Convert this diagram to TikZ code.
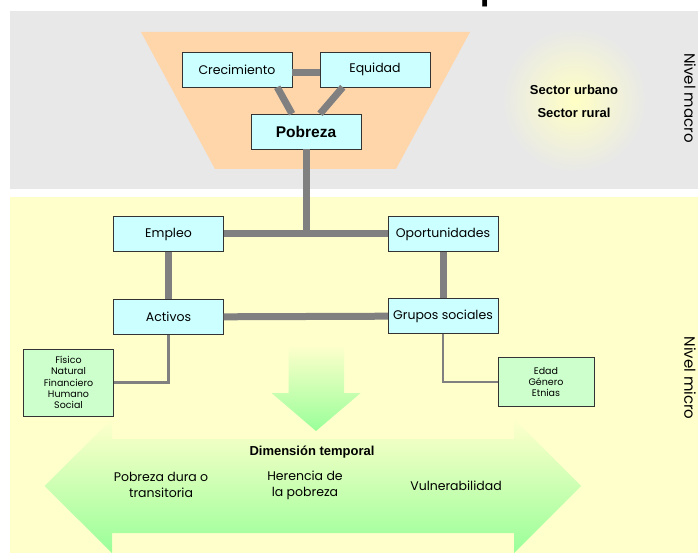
\documentclass[tikz,border=0pt]{standalone}
\usepackage{fontspec}
\usepackage{tikz}
\usetikzlibrary{calc}
\setmainfont{Poppins}
\newfontfamily\narrowfont{Liberation Sans}
\definecolor{macrogray}{HTML}{E8E8E8}
\definecolor{microyellow}{HTML}{FFFFCC}
\definecolor{trapezcolor}{HTML}{FFD5AA}
\definecolor{cyanbox}{HTML}{CCFFFF}
\definecolor{greenbox}{HTML}{CCFFCC}
\definecolor{arrowgreen}{HTML}{99FF99}
\definecolor{linkgray}{HTML}{808080}
\definecolor{glowyellow}{HTML}{FFFFC4}

\begin{document}
\begin{tikzpicture}[x=1pt, y=-1pt,
        factorbox/.style={draw=black!80, fill=cyanbox, minimum width=110pt, minimum height=35pt, inner sep=0pt, font=\fontsize{12.5}{14}\selectfont},
        detailbox/.style={draw=black!80, fill=greenbox, inner sep=0pt, align=center, font=\fontsize{9.5}{11.4}\selectfont},
        thicklink/.style={draw=linkgray, line width=7pt},
        thinlink/.style={draw=linkgray, line width=2.5pt},
        sidelabel/.style={rotate=-90, font=\fontsize{15}{16}\selectfont},
        boldlabel/.style={font=\narrowfont\bfseries\fontsize{13}{14}\selectfont},
        timelabel/.style={align=center, font=\fontsize{12.5}{16}\selectfont}]
        \useasboundingbox (0,0) rectangle (698,553);
        \node[anchor=base, font=\rmfamily\bfseries\fontsize{28}{30}\selectfont] (title) at (490,0) {p};
        % panels
        \fill[macrogray] (10,11) rectangle (698,189);
        \fill[microyellow] (10,197) rectangle (698,553);
        \shade[inner color=glowyellow, outer color=macrogray] (574,100) circle (72);
        \fill[trapezcolor] (141,32) -- (470,32) -- (396,169) -- (215,169) -- cycle;
        % arrows
        \shade[top color=microyellow, bottom color=arrowgreen] (288.5,345) -- (344,345) -- (344,393) -- (360.6,393) -- (316,431) -- (271.6,393) -- (288.5,393) -- cycle;
        \shade[top color=microyellow, middle color=arrowgreen!45!microyellow, bottom color=arrowgreen] (44.5,486) -- (112,419) -- (112,439) -- (514,439) -- (514,419) -- (581,486) -- (514,553) -- (514,533) -- (112,533) -- (112,553) -- cycle;
        % boxes
        \node[factorbox] (crec) at (237,69.5) {Crecimiento};
        \node[factorbox] (equi) at (375,69.5) {Equidad};
        \node[factorbox, font=\narrowfont\bfseries\fontsize{15.5}{17}\selectfont] (pobr) at (306,131.5) {Pobreza};
        \node[factorbox] (empl) at (168.5,234) {Empleo};
        \node[factorbox] (opor) at (443,234) {Oportunidades};
        \node[factorbox] (acti) at (168.5,317) {Activos};
        \node[factorbox] (grup) at (443,316) {Grupos sociales};
        \node[detailbox, minimum width=90pt, minimum height=67pt] (fisi) at (68.5,382.5) {Físico\\Natural\\Financiero\\Humano\\Social};
        \node[detailbox, minimum width=96pt, minimum height=49pt] (edad) at (546,382) {Edad\\Género\\Etnias};
        % links
        \draw[thicklink] ([yshift=-3.5pt]crec.east) -- ([yshift=-3.5pt]equi.west);
        \draw[thicklink] ([xshift=-15pt]crec.south east) -- ([xshift=-14pt]pobr.north);
        \draw[thicklink] ([xshift=23pt]equi.south west) -- ([xshift=14pt]pobr.north);
        \draw[thicklink] (empl) -- (opor);
        \draw[thicklink] (pobr) -- (pobr |- empl);
        \draw[thicklink] (empl) -- (acti);
        \draw[thicklink] (opor) -- (grup);
        \draw[thicklink] (acti) -- (grup);
        \draw[thinlink] (acti.south) |- (fisi.east);
        \draw[thinlink] (grup.south) |- (edad.west);
        % texts
        \node[boldlabel] (urbano) at (574,90) {Sector urbano};
        \node[boldlabel] (rural) at (574,113) {Sector rural};
        \node[sidelabel] (macro) at (690,98) {Nivel macro};
        \node[sidelabel] (micro) at (690,378) {Nivel micro};
        \node[boldlabel] (temporal) at (312,452) {Dimensión temporal};
        \node[timelabel] (dura) at (161,485) {Pobreza dura o\\transitoria};
        \node[timelabel] (herencia) at (305,485) {Herencia de\\la pobreza};
        \node[timelabel] (vulner) at (456,486) {Vulnerabilidad};
    \end{tikzpicture}
\end{document}
